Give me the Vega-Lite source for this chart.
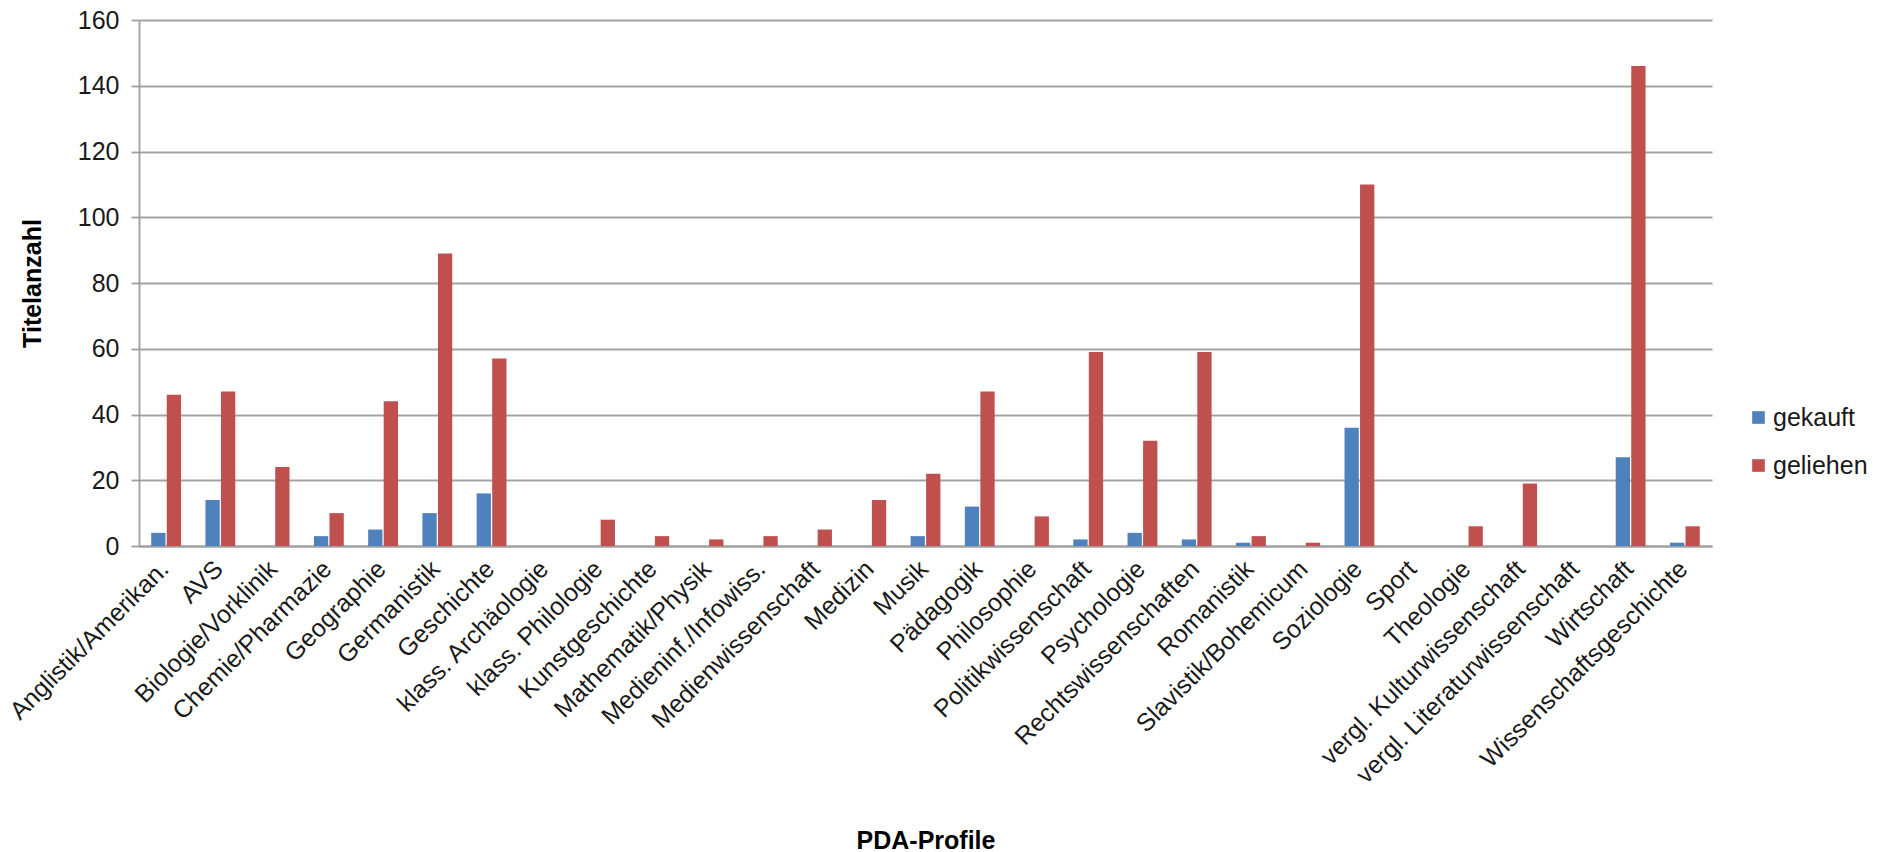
{
  "$schema": "https://vega.github.io/schema/vega-lite/v6.json",
  "autosize": {"type": "none"},
  "padding": {"left": 139, "top": 20, "right": 165, "bottom": 306},
  "width": 1573,
  "height": 526,
  "background": "white",
  "config": {
    "view": {"stroke": null},
    "font": "Liberation Sans",
    "axis": {
      "labelFont": "Liberation Sans",
      "titleFont": "Liberation Sans",
      "labelColor": "#1a1a1a",
      "titleColor": "#000000",
      "domainColor": "#9f9f9f",
      "domainWidth": 1.8,
      "gridColor": "#a3a3a3",
      "gridWidth": 1.8,
      "tickColor": "#9f9f9f",
      "tickWidth": 1.8
    },
    "legend": {"labelFont": "Liberation Sans"}
  },
  "data": {
    "values": [
      {"profil": "Anglistik/Amerikan.", "art": "gekauft", "titel": 4},
      {"profil": "Anglistik/Amerikan.", "art": "geliehen", "titel": 46},
      {"profil": "AVS", "art": "gekauft", "titel": 14},
      {"profil": "AVS", "art": "geliehen", "titel": 47},
      {"profil": "Biologie/Vorklinik", "art": "gekauft", "titel": 0},
      {"profil": "Biologie/Vorklinik", "art": "geliehen", "titel": 24},
      {"profil": "Chemie/Pharmazie", "art": "gekauft", "titel": 3},
      {"profil": "Chemie/Pharmazie", "art": "geliehen", "titel": 10},
      {"profil": "Geographie", "art": "gekauft", "titel": 5},
      {"profil": "Geographie", "art": "geliehen", "titel": 44},
      {"profil": "Germanistik", "art": "gekauft", "titel": 10},
      {"profil": "Germanistik", "art": "geliehen", "titel": 89},
      {"profil": "Geschichte", "art": "gekauft", "titel": 16},
      {"profil": "Geschichte", "art": "geliehen", "titel": 57},
      {"profil": "klass. Archäologie", "art": "gekauft", "titel": 0},
      {"profil": "klass. Archäologie", "art": "geliehen", "titel": 0},
      {"profil": "klass. Philologie", "art": "gekauft", "titel": 0},
      {"profil": "klass. Philologie", "art": "geliehen", "titel": 8},
      {"profil": "Kunstgeschichte", "art": "gekauft", "titel": 0},
      {"profil": "Kunstgeschichte", "art": "geliehen", "titel": 3},
      {"profil": "Mathematik/Physik", "art": "gekauft", "titel": 0},
      {"profil": "Mathematik/Physik", "art": "geliehen", "titel": 2},
      {"profil": "Medieninf./Infowiss.", "art": "gekauft", "titel": 0},
      {"profil": "Medieninf./Infowiss.", "art": "geliehen", "titel": 3},
      {"profil": "Medienwissenschaft", "art": "gekauft", "titel": 0},
      {"profil": "Medienwissenschaft", "art": "geliehen", "titel": 5},
      {"profil": "Medizin", "art": "gekauft", "titel": 0},
      {"profil": "Medizin", "art": "geliehen", "titel": 14},
      {"profil": "Musik", "art": "gekauft", "titel": 3},
      {"profil": "Musik", "art": "geliehen", "titel": 22},
      {"profil": "Pädagogik", "art": "gekauft", "titel": 12},
      {"profil": "Pädagogik", "art": "geliehen", "titel": 47},
      {"profil": "Philosophie", "art": "gekauft", "titel": 0},
      {"profil": "Philosophie", "art": "geliehen", "titel": 9},
      {"profil": "Politikwissenschaft", "art": "gekauft", "titel": 2},
      {"profil": "Politikwissenschaft", "art": "geliehen", "titel": 59},
      {"profil": "Psychologie", "art": "gekauft", "titel": 4},
      {"profil": "Psychologie", "art": "geliehen", "titel": 32},
      {"profil": "Rechtswissenschaften", "art": "gekauft", "titel": 2},
      {"profil": "Rechtswissenschaften", "art": "geliehen", "titel": 59},
      {"profil": "Romanistik", "art": "gekauft", "titel": 1},
      {"profil": "Romanistik", "art": "geliehen", "titel": 3},
      {"profil": "Slavistik/Bohemicum", "art": "gekauft", "titel": 0},
      {"profil": "Slavistik/Bohemicum", "art": "geliehen", "titel": 1},
      {"profil": "Soziologie", "art": "gekauft", "titel": 36},
      {"profil": "Soziologie", "art": "geliehen", "titel": 110},
      {"profil": "Sport", "art": "gekauft", "titel": 0},
      {"profil": "Sport", "art": "geliehen", "titel": 0},
      {"profil": "Theologie", "art": "gekauft", "titel": 0},
      {"profil": "Theologie", "art": "geliehen", "titel": 6},
      {"profil": "vergl. Kulturwissenschaft", "art": "gekauft", "titel": 0},
      {"profil": "vergl. Kulturwissenschaft", "art": "geliehen", "titel": 19},
      {"profil": "vergl. Literaturwissenschaft", "art": "gekauft", "titel": 0},
      {"profil": "vergl. Literaturwissenschaft", "art": "geliehen", "titel": 0},
      {"profil": "Wirtschaft", "art": "gekauft", "titel": 27},
      {"profil": "Wirtschaft", "art": "geliehen", "titel": 146},
      {"profil": "Wissenschaftsgeschichte", "art": "gekauft", "titel": 1},
      {"profil": "Wissenschaftsgeschichte", "art": "geliehen", "titel": 6}
    ]
  },
  "mark": {"type": "bar"},
  "encoding": {
    "x": {
      "field": "profil",
      "type": "nominal",
      "sort": null,
      "scale": {"paddingInner": 0.45, "paddingOuter": 0.225},
      "axis": {
        "title": "PDA-Profile",
        "titleFontSize": 25,
        "titleFontWeight": "bold",
        "titleY": 294,
        "titleBaseline": "middle",
        "labelAngle": -45,
        "labelFontSize": 25,
        "labelPadding": 10,
        "labelOffset": -10,
        "labelOverlap": false,
        "labelBound": false,
        "labelLimit": 0,
        "ticks": false,
        "grid": false,
        "domain": true
      }
    },
    "xOffset": {
      "field": "art",
      "type": "nominal",
      "scale": {"paddingInner": 0.08}
    },
    "y": {
      "field": "titel",
      "type": "quantitative",
      "scale": {"domain": [0, 160], "nice": false},
      "axis": {
        "title": "Titelanzahl",
        "titleFontSize": 25,
        "titleFontWeight": "bold",
        "titleX": -107,
        "titleY": 263,
        "titleAlign": "center",
        "titleBaseline": "middle",
        "values": [0, 20, 40, 60, 80, 100, 120, 140, 160],
        "labelFontSize": 25,
        "labelPadding": 12,
        "tickSize": 8,
        "grid": true,
        "domain": true
      }
    },
    "color": {
      "field": "art",
      "type": "nominal",
      "scale": {"domain": ["gekauft", "geliehen"], "range": ["#4F81BD", "#C0504D"]},
      "legend": {
        "title": null,
        "orient": "none",
        "legendX": 1607,
        "legendY": 385,
        "symbolType": "square",
        "symbolSize": 160,
        "symbolStrokeWidth": 0,
        "labelFontSize": 25,
        "labelColor": "#1a1a1a",
        "labelOffset": 2,
        "rowPadding": 22,
        "padding": 0
      }
    }
  }
}
